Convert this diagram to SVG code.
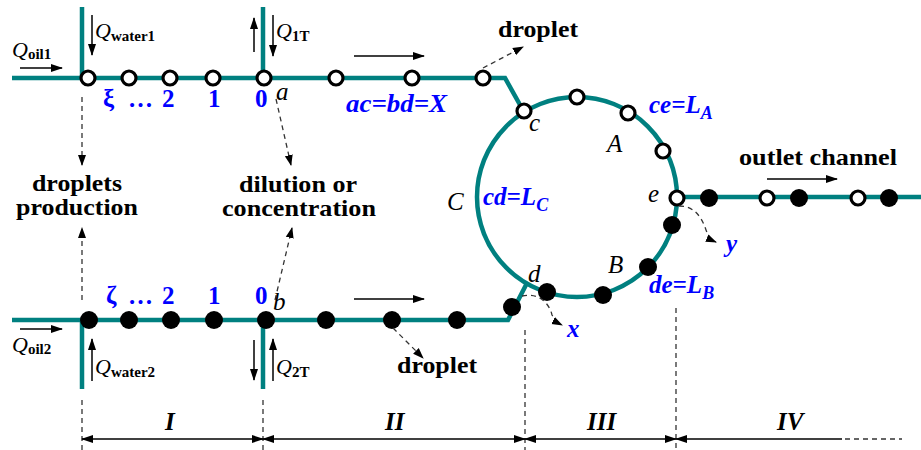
<svg xmlns="http://www.w3.org/2000/svg" width="921" height="450" viewBox="0 0 921 450" font-family="Liberation Serif, Times New Roman, Tinos, DejaVu Serif, Noto Serif, Times, serif">
<defs>
<marker id="ah" markerUnits="userSpaceOnUse" markerWidth="12" markerHeight="10" refX="11" refY="4" orient="auto-start-reverse" viewBox="0 0 12 8">
<path d="M0,0 L12,4 L0,8 z" fill="#000"/>
</marker>
<marker id="ahd" markerUnits="userSpaceOnUse" markerWidth="11" markerHeight="10" refX="10" refY="4" orient="auto" viewBox="0 0 11 8">
<path d="M0,0 L11,4 L0,8 z" fill="#000"/>
</marker>
<style>
.ch{fill:none;stroke:#008080;stroke-width:4.5}
.op{fill:#fff;stroke:#000;stroke-width:3.2}
.fl{fill:#000}
.ar{stroke:#000;stroke-width:1.5;fill:none;marker-end:url(#ah)}
.da{stroke:#333;stroke-width:1.3;stroke-dasharray:5,4;fill:none}
.dar{stroke:#333;stroke-width:1.3;stroke-dasharray:5,4;fill:none;marker-end:url(#ahd)}
.ax{stroke:#000;stroke-width:1.3;fill:none;marker-start:url(#ah);marker-end:url(#ah)}
.t{font-family:Liberation Serif, Times New Roman, Tinos, DejaVu Serif, Noto Serif, Times, serif}
.bk{font-weight:bold;font-size:23px;fill:#000}
.it{font-style:italic;font-size:25px;fill:#000}
.bl{font-weight:bold;font-style:italic;font-size:25px;fill:#0000ff}
.num{font-weight:bold;font-size:25px;fill:#0000ff}
.q{font-style:italic;font-size:22px;fill:#000}
.sub{font-weight:bold;font-style:normal;font-size:15px}
.sec{font-weight:bold;font-style:italic;font-size:25px;fill:#000}
</style>
</defs>
<rect width="921" height="450" fill="#fff"/>
<g id="channels">
<path class="ch" d="M12,78 H505 L524,112"/>
<path class="ch" d="M82,7 V78 M263,7 V78"/>
<path class="ch" d="M12,320 H508 L527,283"/>
<path class="ch" d="M82,320 V389 M263,320 V389"/>
<circle class="ch" cx="577" cy="197" r="100"/>
<path class="ch" d="M677,197 H921"/>
</g>
<g id="droplets">
<circle class="op" cx="88" cy="78" r="7"/>
<circle class="op" cx="129" cy="78" r="7"/>
<circle class="op" cx="170" cy="78" r="7"/>
<circle class="op" cx="213" cy="78" r="7"/>
<circle class="op" cx="264" cy="78" r="7"/>
<circle class="op" cx="336" cy="78" r="7"/>
<circle class="op" cx="412" cy="78" r="7"/>
<circle class="op" cx="483" cy="78" r="7"/>
<circle class="op" cx="524" cy="111" r="7"/>
<circle class="op" cx="577" cy="97" r="7"/>
<circle class="op" cx="628" cy="113" r="7"/>
<circle class="op" cx="663" cy="151" r="7"/>
<circle class="op" cx="677" cy="198" r="7"/>
<circle class="op" cx="767" cy="198" r="7"/>
<circle class="op" cx="858" cy="198" r="7"/>
<circle class="fl" cx="709" cy="198" r="9"/>
<circle class="fl" cx="799" cy="198" r="9"/>
<circle class="fl" cx="889" cy="198" r="9"/>
<circle class="fl" cx="672" cy="225" r="9"/>
<circle class="fl" cx="648" cy="267" r="9"/>
<circle class="fl" cx="603" cy="295" r="9"/>
<circle class="fl" cx="547" cy="292" r="9"/>
<circle class="fl" cx="512" cy="307" r="9"/>
<circle class="fl" cx="89" cy="320" r="9"/>
<circle class="fl" cx="129" cy="320" r="9"/>
<circle class="fl" cx="171" cy="320" r="9"/>
<circle class="fl" cx="214" cy="320" r="9"/>
<circle class="fl" cx="266" cy="320" r="9"/>
<circle class="fl" cx="326" cy="320" r="9"/>
<circle class="fl" cx="392" cy="320" r="9"/>
<circle class="fl" cx="457" cy="320" r="9"/>
</g>
<g id="connectors">
<path class="ar" d="M20,68 H62"/>
<path class="ar" d="M92,15 V55"/>
<path class="ar" d="M254,52 V18"/>
<path class="ar" d="M273,15 V56"/>
<path class="ar" d="M354,56 H424"/>
<path class="ar" d="M767,179 H837"/>
<path class="ar" d="M20,329 H62"/>
<path class="ar" d="M92,381 V339"/>
<path class="ar" d="M254,340 V380"/>
<path class="ar" d="M273,381 V339"/>
<path class="ar" d="M354,299 H424"/>
<path class="dar" d="M483,68 L523,47"/>
<path class="dar" d="M393,328 L423,358"/>
<path class="dar" d="M82,97 V165"/>
<path class="dar" d="M82,300 V228"/>
<path class="dar" d="M276,99 L291,165"/>
<path class="dar" d="M275,300 L292,228"/>
<path class="dar" d="M522,296 C540,292 550,305 552,315 Q556,322 562,325"/>
<path class="dar" d="M679,206 C695,206 702,218 706,230 Q709,239 716,242"/>
<path class="da" d="M82,400 V450 M263,400 V450 M525,330 V450 M676,308 V450"/>
<path class="ax" d="M82,439 H263"/>
<path class="ax" d="M263,439 H525"/>
<path class="ax" d="M525,439 H676"/>
<path stroke="#000" stroke-width="1.3" fill="none" marker-start="url(#ah)" d="M676,439 H842"/>
<path class="da" d="M845,439 H902"/>
</g>
<g id="labels">
<text class="t q" x="12" y="57">Q<tspan class="sub" dy="2">oil1</tspan></text>
<text class="t q" x="95" y="38">Q<tspan class="sub" dy="3">water1</tspan></text>
<text class="t q" x="276" y="38">Q<tspan class="sub" dy="3">1T</tspan></text>
<text class="t q" x="12" y="352">Q<tspan class="sub" dy="2">oil2</tspan></text>
<text class="t q" x="95" y="374">Q<tspan class="sub" dy="3">water2</tspan></text>
<text class="t q" x="276" y="374">Q<tspan class="sub" dy="3">2T</tspan></text>
<text class="t num" x="103" y="107">ξ</text>
<text class="t num" x="128" y="107">…</text>
<text class="t num" x="162" y="107">2</text>
<text class="t num" x="208" y="107">1</text>
<text class="t num" x="255" y="107">0</text>
<text class="t num" x="106" y="304">ζ</text>
<text class="t num" x="128" y="304">…</text>
<text class="t num" x="162" y="304">2</text>
<text class="t num" x="208" y="304">1</text>
<text class="t num" x="255" y="304">0</text>
<text class="t it" x="276" y="100">a</text>
<text class="t it" x="273" y="310">b</text>
<text class="t bk" x="498" y="37" textLength="80" lengthAdjust="spacingAndGlyphs">droplet</text>
<text class="t bk" x="397" y="373" textLength="80" lengthAdjust="spacingAndGlyphs">droplet</text>
<text class="t bk" x="739" y="165" textLength="158" lengthAdjust="spacingAndGlyphs">outlet channel</text>
<text class="t bk" x="32" y="191" textLength="90" lengthAdjust="spacingAndGlyphs">droplets</text>
<text class="t bk" x="16" y="215" textLength="122" lengthAdjust="spacingAndGlyphs">production</text>
<text class="t bk" x="239" y="192" textLength="118" lengthAdjust="spacingAndGlyphs">dilution or</text>
<text class="t bk" x="222" y="216" textLength="154" lengthAdjust="spacingAndGlyphs">concentration</text>
<text class="t bl" x="346" y="112" textLength="101" lengthAdjust="spacingAndGlyphs">ac=bd=X</text>
<text class="t it" x="529" y="131">c</text>
<text class="t it" x="607" y="152">A</text>
<text class="t bl" x="649" y="113">ce=L<tspan font-size="18" dy="6">A</tspan></text>
<text class="t it" x="447" y="210">C</text>
<text class="t bl" x="483" y="205">cd=L<tspan font-size="18" dy="6">C</tspan></text>
<text class="t it" x="648" y="202">e</text>
<text class="t it" x="528" y="282">d</text>
<text class="t it" x="608" y="273">B</text>
<text class="t bl" x="649" y="293">de=L<tspan font-size="18" dy="6">B</tspan></text>
<text class="t bl" x="726" y="252">y</text>
<text class="t bl" x="567" y="337">x</text>
<text class="t sec" x="165" y="430">I</text>
<text class="t sec" x="385" y="430">II</text>
<text class="t sec" x="587" y="430">III</text>
<text class="t sec" x="777" y="430">IV</text>
</g>
</svg>
